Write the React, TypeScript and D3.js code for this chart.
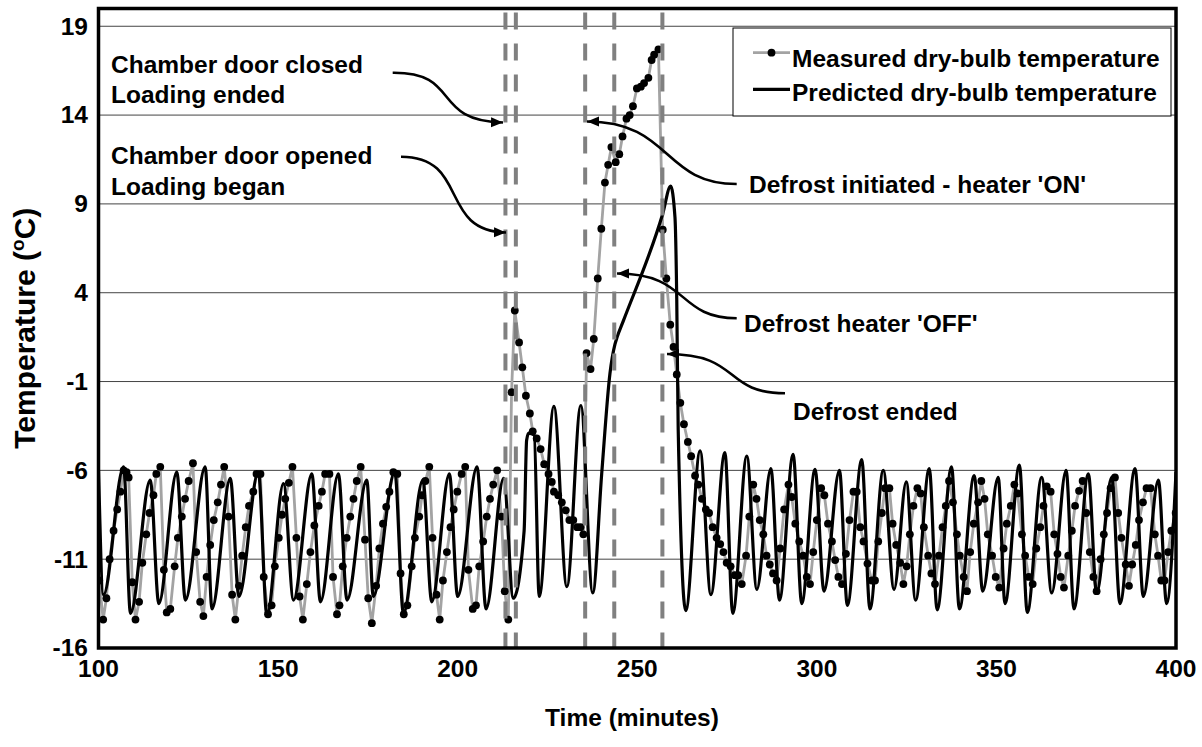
import React from 'react';
import * as d3 from 'd3';

// Measured dry-bulb temperature: [time (min), temperature (°C)]
const measured: [number, number][] = [
  [100.2,-12.2],[101.3,-14.4],[102.2,-13.2],[103.1,-11.0],[104.2,-9.4],[105.2,-8.2],[106.1,-7.2],[107.0,-6.0],[107.8,-6.1],[108.4,-6.4],
  [109.4,-12.3],[110.3,-14.4],[111.3,-13.4],[112.2,-11.2],[113.3,-9.6],[114.2,-8.4],[115.3,-7.4],[116.1,-6.2],[117.2,-5.8],
  [118.2,-11.6],[119.0,-14.0],[120.0,-13.8],[121.2,-11.4],[122.1,-9.8],[123.2,-8.6],[124.1,-7.6],[125.1,-6.6],[126.3,-5.6],
  [127.2,-10.6],[128.3,-13.4],[129.2,-14.2],[130.1,-12.0],[131.1,-10.2],[132.1,-8.8],[133.2,-7.8],[134.1,-6.8],[135.0,-5.8],
  [136.2,-8.6],[137.2,-13.0],[138.1,-14.4],[139.1,-12.5],[140.0,-10.8],[141.0,-9.2],[141.9,-8.0],[143.1,-7.2],[144.0,-6.2],[145.1,-6.2],
  [146.0,-12.0],[147.2,-14.1],[148.2,-13.6],[149.1,-11.4],[150.2,-9.8],[151.1,-8.5],[152.0,-7.6],[153.0,-6.7],[154.0,-5.8],
  [155.1,-9.8],[156.0,-13.1],[156.9,-14.4],[158.0,-12.4],[159.0,-10.6],[160.1,-9.1],[161.3,-8.0],[162.2,-7.2],[163.1,-6.2],[164.3,-6.2],
  [165.3,-12.0],[166.4,-14.1],[167.1,-13.6],[168.0,-11.4],[169.1,-9.8],[170.1,-8.6],[171.0,-7.6],[171.9,-6.6],[173.0,-5.8],
  [174.2,-9.9],[175.1,-13.2],[176.1,-14.6],[177.3,-12.5],[178.2,-10.4],[179.2,-9.0],[180.1,-8.05],[181.0,-7.2],[182.1,-6.1],[183.2,-6.2],
  [184.1,-11.8],[185.0,-14.1],[186.0,-13.6],[187.2,-11.4],[188.1,-9.8],[189.3,-8.6],[190.1,-7.4],[191.0,-6.6],[192.1,-5.8],
  [193.0,-9.8],[194.1,-13.0],[195.0,-14.4],[195.9,-12.2],[197.0,-10.6],[198.0,-9.2],[198.9,-8.2],[199.9,-7.2],[201.1,-6.2],[202.1,-5.8],
  [203.0,-11.6],[204.2,-13.8],[205.1,-13.6],[206.0,-11.4],[207.1,-10.0],[208.1,-8.6],[209.0,-7.6],[209.9,-6.8],[211.0,-6.0],
  [212.2,-8.6],[213.1,-12.8],[214.1,-14.4],[215.0,-1.6],[215.9,3.0],[217.1,1.2],[218.0,-0.2],[219.0,-1.8],[220.1,-2.8],[220.9,-3.8],
  [222.0,-4.2],[223.1,-4.8],[224.1,-5.65],[225.3,-6.2],[226.2,-6.65],[226.8,-7.2],[228.0,-7.4],[229.0,-7.8],[230.1,-8.25],[231.1,-8.8],
  [232.2,-8.8],[233.3,-9.2],[234.2,-9.2],[235.0,-9.6],[235.9,0.6],[237.0,-0.3],[237.9,1.4],[239.0,4.8],[240.0,7.6],[241.0,10.2],
  [241.9,11.2],[242.8,12.2],[244.0,11.35],[245.0,11.8],[245.9,12.8],[247.0,13.8],[247.9,14.0],[248.8,14.5],[249.9,15.5],[251.0,15.6],
  [251.9,15.8],[253.1,16.1],[254.0,17.1],[254.7,17.4],[255.9,17.7],[257.1,7.55],[258.1,4.8],[259.2,2.2],[260.1,0.95],[261.0,-0.6],
  [262.0,-2.2],[263.0,-3.4],[264.1,-4.4],[265.0,-5.2],[266.1,-6.3],[267.0,-6.8],[268.0,-7.6],[269.1,-8.2],[270.0,-8.4],[271.0,-9.2],
  [272.1,-9.8],[273.1,-10.15],[274.0,-10.6],[274.9,-11.2],[276.0,-11.4],[277.2,-11.9],[278.1,-11.9],[279.1,-12.4],[280.3,-10.8],[281.2,-8.6],
  [282.3,-6.8],[283.2,-7.6],[284.1,-8.8],[285.1,-9.6],[286.0,-10.8],[286.9,-11.3],[287.8,-11.8],[288.8,-12.2],[289.8,-10.4],[290.9,-8.2],
  [292.1,-6.8],[293.0,-7.5],[294.0,-9.0],[295.1,-10.0],[296.2,-10.8],[297.2,-12.0],[298.1,-12.4],[299.0,-10.6],[300.0,-8.8],[301.2,-7.0],
  [302.1,-7.4],[303.1,-9.0],[304.2,-10.0],[305.1,-11.05],[306.0,-12.0],[307.0,-12.4],[308.1,-10.7],[309.1,-8.8],[310.2,-7.2],[311.1,-7.2],
  [312.1,-9.2],[313.0,-10.0],[314.1,-11.25],[315.3,-12.2],[316.2,-12.2],[317.1,-10.0],[318.1,-8.4],[319.0,-7.0],[320.2,-7.0],[321.1,-9.0],
  [322.1,-10.2],[323.2,-11.2],[324.1,-12.4],[325.0,-11.4],[325.9,-9.6],[326.9,-8.0],[328.0,-7.0],[328.9,-7.3],[329.8,-9.2],[331.0,-10.8],
  [331.9,-11.8],[332.9,-12.4],[334.0,-10.8],[335.0,-9.2],[335.9,-8.0],[336.8,-6.6],[337.9,-7.8],[339.0,-9.6],[339.8,-10.8],[340.9,-12.0],
  [341.8,-12.8],[342.7,-10.6],[343.7,-9.0],[344.9,-7.8],[345.8,-6.6],[346.7,-7.6],[347.6,-9.6],[348.8,-10.8],[349.8,-12.0],[350.8,-12.6],
  [352.0,-10.4],[352.9,-9.0],[354.0,-8.0],[355.0,-6.8],[355.9,-7.3],[357.1,-9.6],[358.0,-10.8],[359.0,-12.0],[360.1,-12.4],[361.1,-10.4],
  [362.2,-9.2],[363.1,-8.0],[364.0,-6.9],[365.1,-7.2],[366.1,-9.6],[367.0,-10.7],[367.9,-12.0],[368.8,-12.6],[370.0,-10.8],[371.0,-9.4],
  [371.9,-8.0],[373.0,-7.15],[374.0,-6.6],[375.0,-8.4],[376.0,-10.6],[377.0,-12.0],[377.9,-12.8],[379.0,-11.0],[379.9,-9.6],[380.8,-8.4],
  [381.8,-7.0],[383.0,-6.4],[383.9,-8.4],[384.8,-9.8],[386.0,-11.3],[386.9,-12.5],[387.8,-11.3],[388.8,-10.2],[389.7,-8.8],[390.8,-7.8],
  [391.8,-7.0],[392.9,-7.0],[394.1,-9.6],[395.0,-10.8],[395.9,-12.2],[396.8,-12.2],[397.8,-10.6],[398.7,-9.4],[399.9,-8.4]
];

// Predicted dry-bulb temperature: turning points and shape points [time, temperature]
const predicted: [number, number][] = [
  [100.0,-6.0],[101.4,-13.0],[107.0,-5.8],[108.9,-14.05],[114.4,-6.55],[116.8,-13.5],[121.8,-6.1],[124.2,-13.3],[129.7,-5.8],[131.6,-13.8],
  [136.7,-6.45],[139.1,-13.1],[144.5,-6.1],[146.9,-14.15],[151.5,-6.75],[154.3,-13.3],[159.4,-6.2],[161.8,-13.4],[166.8,-6.2],[169.2,-13.3],
  [174.7,-6.55],[176.5,-13.1],[182.5,-6.1],[184.9,-14.05],[190.3,-6.55],[192.8,-13.4],[197.7,-6.2],[200.0,-13.1],[205.4,-5.8],[207.9,-13.8],
  [212.8,-6.45],[215.5,-13.2],[218.5,-9.4],[219.2,-4.3],[219.8,-3.9],[221.3,-4.0],[222.7,-13.1],[226.8,-2.4],[230.4,-12.55],[234.3,-2.35],
  [237.6,-12.9],[240.1,-6.2],[242.4,-0.55],[243.8,1.1],[244.4,1.5],[246.1,2.4],[257.1,8.45],[259.3,10.0],[260.5,8.25],[261.0,3.6],
  [261.4,-3.7],[263.5,-13.9],[267.5,-4.9],[270.5,-13.0],[274.4,-5.0],[276.6,-14.05],[280.5,-5.2],[283.3,-12.7],[287.2,-5.9],[289.6,-13.3],
  [293.4,-5.1],[295.8,-13.5],[299.5,-5.95],[302.0,-12.8],[306.3,-6.0],[308.5,-13.6],[312.5,-5.4],[314.8,-13.8],[318.5,-6.0],[321.5,-12.7],
  [324.9,-6.65],[327.5,-13.3],[331.3,-5.9],[333.5,-13.85],[337.5,-5.8],[339.7,-13.8],[343.8,-6.3],[346.2,-12.8],[350.5,-6.4],[352.4,-13.5],
  [356.4,-5.7],[358.6,-14.0],[362.6,-6.4],[365.4,-12.9],[369.4,-6.0],[371.6,-13.8],[375.6,-6.2],[377.9,-12.9],[382.1,-6.4],[384.4,-13.5],
  [388.6,-5.9],[390.9,-13.1],[395.1,-6.55],[397.4,-13.5],[400.0,-6.1]
];

const eventTimes = [213.3, 216.2, 235.5, 243.6, 257.0];
const xTicks = [100, 150, 200, 250, 300, 350, 400];
const yTicks = [-16, -11, -6, -1, 4, 9, 14, 19];
const legendLabels = ['Measured dry-bulb temperature', 'Predicted dry-bulb temperature'];
const annotationDoor = [['Chamber door closed', 'Loading ended'], ['Chamber door opened', 'Loading began']];
const annotationDefrost = ["Defrost initiated - heater 'ON'", "Defrost heater 'OFF'", 'Defrost ended'];

const FONT = '"Liberation Sans", Arial, Helvetica, sans-serif';

export default function App() {
  const W = 1202, H = 747;
  const x = d3.scaleLinear().domain([100, 400]).range([98.5, 1176]);
  const y = d3.scaleLinear().domain([-16, 20]).range([648, 8.5]);
  const [x0, x1] = x.range();
  const [yb, yt] = y.range();

  const measLine = d3.line<[number, number]>().x(d => x(d[0])).y(d => y(d[1]));
  const predLine = d3.line<[number, number]>().x(d => x(d[0])).y(d => y(d[1])).curve(d3.curveMonotoneX);

  const arrows = [
    'M392.7,72.7 C462,72 430,121 503,122.5',
    'M401,156.7 C470,157 438,231 506,232.5',
    'M736.7,184 C662,184 672,121.5 587,121.5',
    'M736.7,318.3 C676,318 690,273.5 617,273.5',
    'M785,393.3 C722,393 742,354 667,354',
  ];

  const textStyle: React.CSSProperties = { fontFamily: FONT, fontWeight: 'bold', fontSize: 24.5 };

  return (
    <svg width={W} height={H} style={{ position: 'absolute', left: 0, top: 0, background: '#fff' }}>
      <defs>
        <clipPath id="plotClip">
          <rect x={x0} y={yt} width={x1 - x0} height={yb - yt} />
        </clipPath>
        <marker id="arrowHead" markerUnits="userSpaceOnUse" markerWidth="14" markerHeight="12" refX="12" refY="5" orient="auto">
          <path d="M0,0 L12,5 L0,10 Z" fill="#000" />
        </marker>
      </defs>
      <rect x={0} y={0} width={W} height={H} fill="#fff" />

      {/* gridlines */}
      {yTicks.filter(t => t !== -16).map(t => (
        <line key={'g' + t} x1={x0} x2={x1} y1={y(t)} y2={y(t)} stroke="#444" strokeWidth={1} />
      ))}

      <g clipPath="url(#plotClip)">
        {/* measured */}
        <path d={measLine(measured) || ''} fill="none" stroke="#a3a3a3" strokeWidth={2.8} strokeLinejoin="round" />
        {measured.map((d, i) => (
          <circle key={'m' + i} cx={x(d[0])} cy={y(d[1])} r={3.9} fill="#000" />
        ))}
        {/* predicted */}
        <path d={predLine(predicted) || ''} fill="none" stroke="#000" strokeWidth={3.2} strokeLinejoin="round" />
      </g>

      {/* event dashed lines */}
      {eventTimes.map((t, i) => (
        <line key={'e' + i} x1={x(t)} x2={x(t)} y1={yt + 4} y2={yb} stroke="#808080" strokeWidth={4} strokeDasharray="17 14" />
      ))}

      {/* frame */}
      <rect x={x0} y={yt} width={x1 - x0} height={yb - yt} fill="none" stroke="#000" strokeWidth={3.5} />

      {/* y tick labels */}
      {yTicks.map(t => (
        <text key={'yl' + t} x={88} y={y(t)} dy="0.34em" textAnchor="end" style={textStyle}>{t}</text>
      ))}
      {/* x tick labels */}
      {xTicks.map(t => (
        <text key={'xl' + t} x={x(t)} y={677} textAnchor="middle" style={textStyle}>{t}</text>
      ))}

      {/* axis titles */}
      <text x={632} y={726} textAnchor="middle" style={textStyle}>Time (minutes)</text>
      <text transform={`translate(35,${(yb + yt) / 2}) rotate(-90)`} textAnchor="middle" style={{ ...textStyle, fontSize: 30 }}>
        Temperature (<tspan dy={-11} fontSize={19}>o</tspan><tspan dy={11}>C)</tspan>
      </text>

      {/* annotations */}
      <text x={111} y={73.3} style={textStyle}>{annotationDoor[0][0]}</text>
      <text x={111} y={103.3} style={textStyle}>{annotationDoor[0][1]}</text>
      <text x={111} y={164} style={textStyle}>{annotationDoor[1][0]}</text>
      <text x={111} y={195} style={textStyle}>{annotationDoor[1][1]}</text>
      <text x={749} y={192.7} style={textStyle}>{annotationDefrost[0]}</text>
      <text x={744} y={331.7} style={textStyle}>{annotationDefrost[1]}</text>
      <text x={793} y={419.5} style={textStyle}>{annotationDefrost[2]}</text>
      {arrows.map((d, i) => (
        <path key={'a' + i} d={d} fill="none" stroke="#000" strokeWidth={2.6} markerEnd="url(#arrowHead)" />
      ))}

      {/* legend */}
      <rect x={733} y={28} width={438} height={88} fill="#fff" stroke="#000" strokeWidth={1} />
      <line x1={753} x2={790} y1={52.7} y2={52.7} stroke="#a3a3a3" strokeWidth={2.8} />
      <circle cx={771.5} cy={52.7} r={3.9} fill="#000" />
      <text x={792} y={67.3} style={textStyle}>{legendLabels[0]}</text>
      <line x1={753} x2={790} y1={89.3} y2={89.3} stroke="#000" strokeWidth={3.2} />
      <text x={792} y={100.7} style={textStyle}>{legendLabels[1]}</text>
    </svg>
  );
}
